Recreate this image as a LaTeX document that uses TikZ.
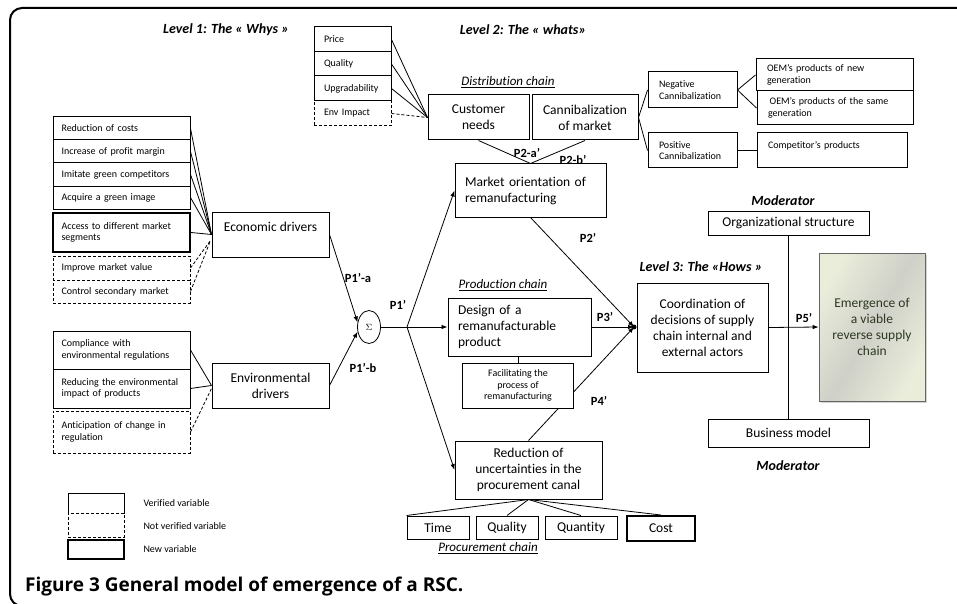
\documentclass[tikz,border=0pt]{standalone}
\usepackage{fontspec}
\setmainfont{Carlito}[Ligatures=NoCommon]
\newfontfamily\capfont{Open Sans}
\usetikzlibrary{shapes.geometric,arrows.meta,backgrounds,shadows,calc}
\definecolor{emergelight}{RGB}{233,237,218}
\definecolor{emergegray}{RGB}{207,208,200}
\definecolor{emergetext}{RGB}{45,55,33}

\begin{document}
\begin{tikzpicture}[x=1pt, y=-1pt,
  box/.style={draw, line width=1pt, fill=white, inner sep=0pt},
  smalltxt/.style={font=\fontsize{10}{11.5}\selectfont},
  bigtxt/.style={font=\fontsize{13.5}{16}\selectfont},
  leftbox/.style={box, smalltxt, align=left, inner xsep=10pt},
  midbox/.style={box, bigtxt, align=center},
  notver/.style={dash pattern=on 3pt off 2pt},
  newvar/.style={line width=2pt},
  leveltitle/.style={font=\fontsize{14}{16}\selectfont\bfseries\itshape},
  chaintitle/.style={font=\fontsize{13}{15}\selectfont\itshape},
  plabel/.style={font=\fontsize{12.5}{14}\selectfont\bfseries},
  link/.style={line width=0.8pt},
  arr/.style={link, -{Latex[length=6pt,width=4.5pt]}}]
\useasboundingbox (0,0) rectangle (957,604);

% frame
\draw[line width=2pt, rounded corners=12pt] (960,8) -- (10,8) -- (10,606) -- (40,606);

% titles
\node[leveltitle] (lev1) at (226,30) {Level 1: The « Whys »};
\node[leveltitle] (lev2) at (523,30) {Level 2: The « whats»};
\node[leveltitle] (lev3) at (701,267) {Level 3: The «Hows »};
\node[chaintitle] (distr) at (508,82) {\underline{Distribution chain}};
\node[chaintitle] (prod) at (503,285) {\underline{Production chain}};
\node[chaintitle] (procu) at (488,548) {\underline{Procurement chain}};
\node[leveltitle] (modtop) at (783,201) {Moderator};
\node[leveltitle] (modbot) at (788,466) {Moderator};

% level 1 variables
\node[leftbox, inner xsep=8.5pt, text width=120pt, minimum height=23pt] (rc) at (121.5,128.5) {Reduction of costs};
\node[leftbox, inner xsep=8.5pt, text width=120pt, minimum height=23pt] (ipm) at (121.5,151.5) {Increase of profit margin};
\node[leftbox, inner xsep=8.5pt, text width=120pt, minimum height=23pt] (igc) at (121.5,174.5) {Imitate green competitors};
\node[leftbox, inner xsep=8.5pt, text width=120pt, minimum height=23pt] (agi) at (121.5,197.5) {Acquire a green image};
\node[leftbox, newvar, inner xsep=8.5pt, text width=120pt, minimum height=39pt] (adm) at (121.5,232.5) {Access to different market\\segments};
\node[leftbox, notver, inner xsep=8.5pt, text width=120pt, minimum height=24pt] (imv) at (121.5,268) {Improve market value};
\node[leftbox, notver, inner xsep=8.5pt, text width=120pt, minimum height=23pt] (csm) at (121.5,291.5) {Control secondary market};
\node[leftbox, inner xsep=8.5pt, text width=120pt, minimum height=38pt] (cer) at (121.5,350) {Compliance with\\environmental regulations};
\node[leftbox, inner xsep=8.5pt, text width=120pt, minimum height=39pt] (rei) at (121.5,388.5) {Reducing the environmental\\impact of products};
\node[leftbox, notver, inner xsep=8.5pt, text width=120pt, minimum height=42pt] (acr) at (121.5,432) {Anticipation of change in\\regulation};

\node[midbox, minimum width=117pt, minimum height=45pt] (eco) at (270.5,234.5) {Economic drivers\\ \mbox{}};
\node[midbox, minimum width=117pt, minimum height=45pt] (env) at (270.5,385.5) {Environmental\\drivers};
\node[draw, ellipse, line width=0.8pt, minimum width=23pt, minimum height=33pt, inner sep=0pt,
  font=\fontsize{9}{10}\selectfont] (sig) at (369,327) {$\Sigma$};
\coordinate (br) at (407,327);

% level 2: distribution chain
\node[leftbox, text width=57pt, minimum height=25pt] (price) at (352.5,39.5) {Price};
\node[leftbox, text width=57pt, minimum height=24pt] (qual) at (352.5,64) {Quality};
\node[leftbox, text width=57pt, minimum height=25pt] (upg) at (352.5,88.5) {Upgradability};
\node[leftbox, notver, text width=57pt, minimum height=25pt] (envi) at (352.5,113.5) {Env Impact};
\node[midbox, minimum width=101pt, minimum height=45pt] (cn) at (478.5,117.5) {Customer\\needs};
\node[midbox, minimum width=106pt, minimum height=45pt] (cm) at (585,117.5) {Cannibalization\\of market};
\node[leftbox, inner xsep=11pt, text width=67pt, minimum height=36pt] (negc) at (692.5,90) {Negative\\Cannibalization};
\node[leftbox, inner xsep=11pt, text width=67pt, minimum height=35pt] (posc) at (692.5,150.5) {Positive\\Cannibalization};
\node[leftbox, inner xsep=11pt, text width=135pt, minimum height=32pt] (oemn) at (834.5,75) {OEM’s products of new\\generation};
\node[leftbox, inner xsep=11pt, text width=134pt, minimum height=34pt] (oems) at (835,108) {\,OEM’s products of the same\\generation};
\node[leftbox, inner xsep=11pt, text width=128pt, minimum height=35pt] (comp) at (832,150.5) {Competitor’s products\\ \mbox{}};
\node[box, bigtxt, align=left, inner xsep=10pt, text width=131pt, minimum height=53pt] (mo) at (530.5,190.5) {Market orientation of\\remanufacturing};

% production and procurement chains
\node[box, bigtxt, align=left, inner xsep=10pt, text width=123pt, minimum height=58pt] (des) at (519.5,327) {Design of a\\remanufacturable\\product};
\node[box, smalltxt, align=center, minimum width=111pt, minimum height=45pt] (fac) at (518,385.5) {Facilitating the\\process of\\remanufacturing};
\node[midbox, minimum width=147pt, minimum height=58pt] (red) at (528.5,470) {Reduction of\\uncertainties in the\\procurement canal};
\node[midbox, minimum width=62pt, minimum height=23pt] (time) at (438,527.5) {Time};
\node[midbox, minimum width=62pt, minimum height=23pt] (qlty) at (507,527.5) {Quality};
\node[midbox, minimum width=72pt, minimum height=23pt] (qnty) at (581,527.5) {Quantity};
\node[midbox, newvar, minimum width=68pt, minimum height=25pt] (cost) at (661,528.5) {Cost};

% level 3
\node[midbox, minimum width=131pt, minimum height=89pt] (coord) at (702.5,327.5) {Coordination of\\decisions of supply\\chain internal and\\external actors};
\coordinate (cj) at (634,327);
\node[midbox, minimum width=161pt, minimum height=24pt] (org) at (788.5,223) {Organizational structure};
\node[midbox, minimum width=161pt, minimum height=28pt] (bm) at (788.5,433) {Business model};
\node[draw=black!60, line width=0.8pt, left color=emergelight, right color=emergelight, middle color=emergegray,
  shading angle=60, drop shadow={opacity=0.35, shadow xshift=2pt, shadow yshift=-2pt},
  minimum width=106pt, minimum height=148pt, align=center, bigtxt, text=emergetext] (emer) at (872,327)
  {Emergence of\\a viable\\reverse supply\\chain};

% propositions
\node[plabel] (p1a) at (358,278) {P1’-a};
\node[plabel] (p1b) at (363,368) {P1’-b};
\node[plabel] (p1) at (398,305) {P1’};
\node[plabel] (p2a) at (527,153) {P2-a’};
\node[plabel] (p2b) at (573,160) {P2-b’};
\node[plabel] (p2) at (588,238) {P2’};
\node[plabel] (p3) at (605,317) {P3’};
\node[plabel] (p4) at (599,401) {P4’};
\node[plabel] (p5) at (804,318) {P5’};

% connectors
\begin{scope}[on background layer]
\foreach \v in {rc,ipm,igc,agi,adm} {
    \draw[link] (\v.east) -- (eco.west);
}
\foreach \v in {imv,csm} {
    \draw[link, notver] (\v.east) -- ($(eco.west)+(-1,6)$);
}
\draw[link] (cer.east) -- (env.west);
\draw[link] (rei.east) -- (env.west);
\draw[link, notver] (acr.east) -- ($(env.west)+(0,3)$);
\draw[arr] (eco.east) -- (sig.158);
\draw[arr] (env.east) -- (sig.202);
\draw[link] (sig.east) -- (br);
\draw[arr] (br) -- (mo.west);
\draw[arr] (br) -- (des.west);
\draw[arr] (br) -- (red.west);
\foreach \v in {price,qual,upg} {
    \draw[link] (\v.east) -- (cn.west);
}
\draw[link, notver] (envi.east) -- (cn.west);
\draw[link] (cn.south) -- (mo.north);
\draw[link] (cm.south) -- (mo.north);
\draw[link] (cm.east) -- (negc.west);
\draw[link] (cm.east) -- (posc.west);
\draw[link] (negc.east) -- (oemn.west);
\draw[link] (negc.east) -- (oems.west);
\draw[link] (posc.east) -- (comp.west);
\draw[link] (fac.north) -- (fac.north |- des.south);
\draw[arr] (mo.south) -- (cj);
\draw[arr] (des.east) -- (cj);
\draw[arr] (red.north) -- (cj);
\fill (cj) circle (2.5pt);
\draw[link] (red.south) -- (time.north west);
\draw[link] (red.south) -- (qlty.north);
\draw[link] (red.south) -- (qnty.north);
\draw[link] (red.south) -- (cost.north);
\draw[link] (org.south) -- (bm.north);
\draw[arr] (coord.east) -- (emer.west);
\end{scope}

% legend
\node[box, minimum width=56pt, minimum height=20pt] (legver) at (96,503) {};
\node[box, notver, minimum width=56pt, minimum height=24pt] (legnot) at (96,525) {};
\node[box, newvar, minimum width=56pt, minimum height=19pt] (legnew) at (96,549.5) {};
\node[anchor=west, font=\fontsize{10}{11}\selectfont] (legvert) at (140,503) {Verified variable};
\node[anchor=west, font=\fontsize{10}{11}\selectfont] (legnott) at (140,526) {Not verified variable};
\node[anchor=west, font=\fontsize{10}{11}\selectfont] (legnewt) at (140,549) {New variable};

% caption
\node[anchor=west, inner sep=0pt, font=\capfont\fontsize{19}{22}\selectfont\bfseries] (caption) at (25,587)
  {Figure 3 General model of emergence of a RSC.};
\end{tikzpicture}
\end{document}
